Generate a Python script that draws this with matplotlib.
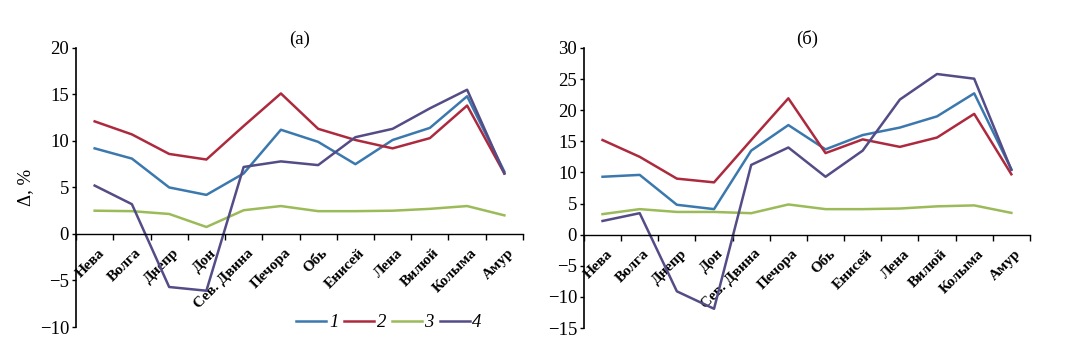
import numpy as np
import matplotlib
matplotlib.use("Agg")
import matplotlib.pyplot as plt
from matplotlib.transforms import ScaledTranslation

plt.rcParams['font.family'] = ['Liberation Serif', 'DejaVu Serif']

# rivers (x categories)
rivers = ['Нева', 'Волга', 'Днепр', 'Дон', 'Сев. Двина', 'Печора', 'Обь',
          'Енисей', 'Лена', 'Вилюй', 'Колыма', 'Амур']
series_names = ['1', '2', '3', '4']

# panel (а)
a_s1 = [9.2, 8.1, 5.0, 4.2, 6.5, 11.2, 9.9, 7.5, 10.1, 11.4, 14.8, 6.7]
a_s2 = [12.1, 10.7, 8.6, 8.0, 11.6, 15.1, 11.3, 10.1, 9.2, 10.3, 13.8, 6.5]
a_s3 = [2.5, 2.45, 2.15, 0.75, 2.55, 3.0, 2.45, 2.45, 2.5, 2.7, 3.0, 2.0]
a_s4 = [5.2, 3.2, -5.7, -6.1, 7.2, 7.8, 7.4, 10.4, 11.3, 13.5, 15.5, 6.5]

# panel (б)
b_s1 = [9.3, 9.6, 4.8, 4.1, 13.5, 17.6, 13.7, 16.0, 17.2, 19.0, 22.7, 10.5]
b_s2 = [15.2, 12.5, 9.0, 8.4, 15.2, 21.9, 13.1, 15.3, 14.1, 15.6, 19.4, 9.7]
b_s3 = [3.3, 4.1, 3.65, 3.65, 3.45, 4.85, 4.1, 4.1, 4.2, 4.55, 4.7, 3.5]
b_s4 = [2.2, 3.45, -9.1, -11.9, 11.2, 14.0, 9.3, 13.5, 21.7, 25.8, 25.05, 10.4]

colors = ['#3b78ad', '#ad2a3e', '#9bbb59', '#534c86']

fig = plt.figure(figsize=(10.77, 3.52), dpi=100)
ax1 = fig.add_axes([0.0706, 0.071, 0.415, 0.793])
ax2 = fig.add_axes([0.5422, 0.068, 0.4141, 0.796])

x = np.arange(len(rivers))


def draw(ax, data, ylim, yticks, title):
    # spine position first: it resets the ticks
    ax.spines['top'].set_visible(False)
    ax.spines['right'].set_visible(False)
    ax.spines['bottom'].set_position(('data', 0))
    ax.spines['bottom'].set_linewidth(1)
    ax.spines['left'].set_linewidth(1.2)

    for vals, c, name in zip(data, colors, series_names):
        ax.plot(x, vals, color=c, lw=1.8, label=name)
    ax.set_xlim(-0.5, len(rivers) - 0.5)
    ax.set_ylim(*ylim)
    ax.set_yticks(yticks)
    ax.tick_params(axis='y', labelsize=13.5, length=3, width=1, pad=2)
    # category boundaries as major ticks, labels on minor ticks
    ax.set_xticks(np.arange(-0.5, len(rivers)), labels=[])
    ax.set_xticks(x, minor=True)
    ax.tick_params(axis='x', which='major', length=4, width=1, direction='out')
    ax.tick_params(axis='x', which='minor', length=0, pad=9)
    ax.set_xticklabels(rivers, minor=True, rotation=45, ha='right', va='top',
                       rotation_mode='anchor', fontsize=11, fontweight='bold')
    shift = ScaledTranslation(3 / 100, 0, fig.dpi_scale_trans)
    for lab in ax.get_xticklabels(minor=True):
        lab.set_transform(lab.get_transform() + shift)
    ax.set_title(title, fontsize=13.5, pad=2)


draw(ax1, [a_s1, a_s2, a_s3, a_s4], (-10, 20), [-10, -5, 0, 5, 10, 15, 20], '(а)')
draw(ax2, [b_s1, b_s2, b_s3, b_s4], (-15, 30), [-15, -10, -5, 0, 5, 10, 15, 20, 25, 30], '(б)')

ax1.set_ylabel('Δ, %', fontsize=13.5, labelpad=4)

leg = ax1.legend(ncol=4, loc='lower center', bbox_to_anchor=(0.70, -0.075),
                 frameon=False, handlelength=1.6, handletextpad=0.15,
                 columnspacing=0.3, prop={'style': 'italic', 'size': 13.5})

fig.savefig('out.png', dpi=100)
